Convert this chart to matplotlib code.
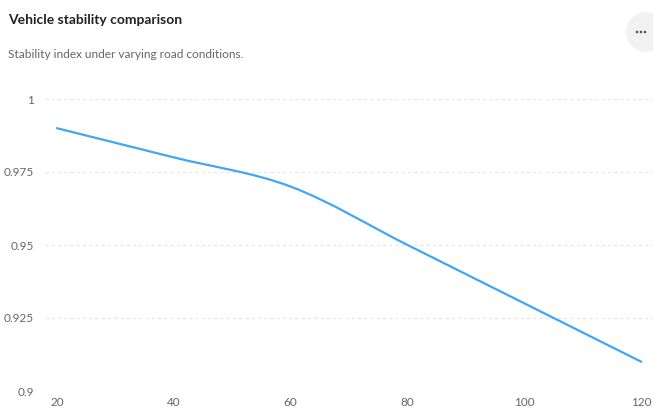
import matplotlib
matplotlib.use("Agg")
import matplotlib.pyplot as plt
from matplotlib.path import Path
from matplotlib.patches import PathPatch, Ellipse

# ─── DATA ─────────────────────────────────────────────────────────────────────
speeds = [20, 40, 60, 80, 100, 120]
stability = [0.99, 0.98, 0.97, 0.95, 0.93, 0.91]
y_ticks = [0.9, 0.925, 0.95, 0.975, 1.0]
y_tick_labels = ["0.9", "0.925", "0.95", "0.975", "1"]

LINE_COLOR = "#42a5f5"
TEXT_GRAY = "#666666"
FONT = ["Lato", "DejaVu Sans"]
W, H = 653, 412


def monotone_path(xs, ys):
    """Monotone cubic Bezier path through the points (d3 curveMonotoneX style)."""
    n = len(xs)
    h = [xs[i + 1] - xs[i] for i in range(n - 1)]
    s = [(ys[i + 1] - ys[i]) / h[i] for i in range(n - 1)]
    t = [0.0] * n
    for i in range(1, n - 1):
        if s[i - 1] * s[i] <= 0:
            t[i] = 0.0
        else:
            p = (s[i - 1] * h[i] + s[i] * h[i - 1]) / (h[i - 1] + h[i])
            sign = 1 if s[i - 1] > 0 else -1
            t[i] = sign * min(2 * abs(s[i - 1]), 2 * abs(s[i]), abs(p))
    t[0] = (3 * s[0] - t[1]) / 2
    t[-1] = (3 * s[-1] - t[-2]) / 2
    verts = [(xs[0], ys[0])]
    codes = [Path.MOVETO]
    for i in range(n - 1):
        dx = h[i] / 3
        verts += [(xs[i] + dx, ys[i] + dx * t[i]),
                  (xs[i + 1] - dx, ys[i + 1] - dx * t[i + 1]),
                  (xs[i + 1], ys[i + 1])]
        codes += [Path.CURVE4] * 3
    return Path(verts, codes)


# ─── PLOTTING ─────────────────────────────────────────────────────────────────
fig = plt.figure(figsize=(W / 100, H / 100), dpi=100)
ax = fig.add_axes([45 / W, 1 - 391 / H, 608 / W, 292 / H])

ax.add_patch(PathPatch(monotone_path(speeds, stability), facecolor="none",
                       edgecolor=LINE_COLOR, linewidth=1.6, capstyle="round"))

ax.set_xlim(17.95, 122.0)
ax.set_ylim(0.9, 1.0)
ax.set_xticks(speeds)
ax.set_xticklabels([str(v) for v in speeds], color=TEXT_GRAY, fontsize=8.5,
                   family=FONT)
ax.set_yticks(y_ticks)
ax.set_yticklabels(y_tick_labels, color=TEXT_GRAY, fontsize=8.5, family=FONT)
ax.tick_params(length=0, pad=8)
ax.tick_params(axis="x", pad=4)
for spine in ax.spines.values():
    spine.set_visible(False)
ax.grid(axis="y", color="#e6e6e6", linestyle=(0, (2.5, 2.5)), linewidth=0.9)
ax.set_axisbelow(True)

fig.text(8 / W, 1 - 20 / H, "Vehicle stability comparison", fontsize=10,
         fontweight="bold", color="#222222", family=FONT, va="center")
fig.text(8 / W, 1 - 54 / H, "Stability index under varying road conditions.",
         fontsize=8.6, color=TEXT_GRAY, family=FONT, va="center")

# overflow menu button
fig.patches.append(Ellipse((646 / W, 1 - 32 / H), 40 / W, 40 / H,
                           transform=fig.transFigure, facecolor="#f2f2f2",
                           edgecolor="none"))
for dx in (-4, 0, 4):
    fig.patches.append(Ellipse(((641 + dx) / W, 1 - 32 / H), 2.6 / W, 2.6 / H,
                               transform=fig.transFigure, facecolor="#555555",
                               edgecolor="none"))

fig.savefig("out.png", dpi=100)
